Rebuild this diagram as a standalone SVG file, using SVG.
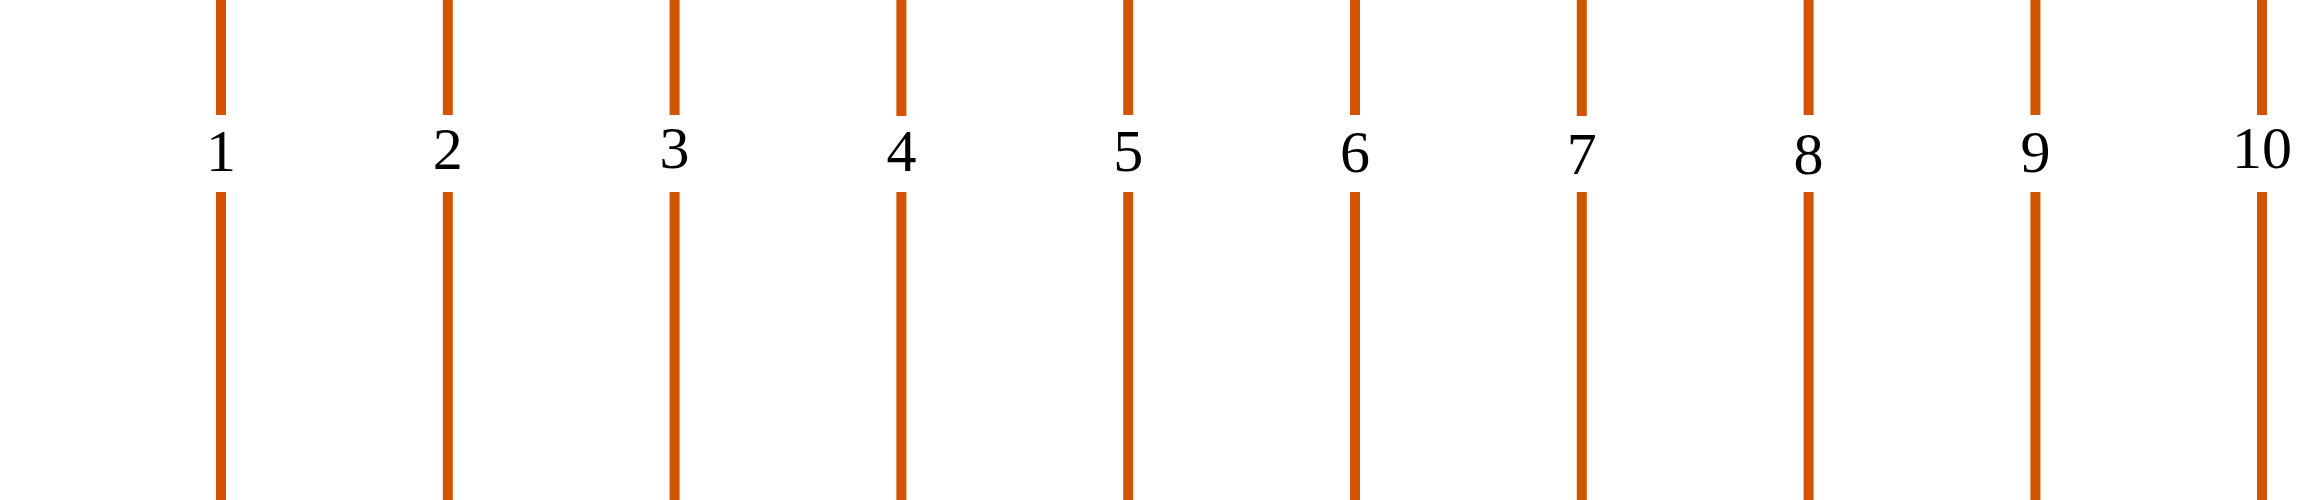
<svg xmlns="http://www.w3.org/2000/svg" width="2322" height="500" viewBox="0 0 2322 500">
<style>
.ln{stroke:#D35400;stroke-width:10;fill:none}
.lb{font-family:"Liberation Serif","Times New Roman",serif;font-size:60px;fill:#000;text-anchor:middle}
</style>
<rect width="2322" height="500" fill="#fff"/>
<g id="connectors">
<path class="ln" d="M221 0V115M221 192V500"/>
<path class="ln" d="M447.8 0V115M447.8 192V500"/>
<path class="ln" d="M674.6 0V115M674.6 192V500"/>
<path class="ln" d="M901.4 0V116M901.4 192V500"/>
<path class="ln" d="M1128.2 0V115M1128.2 192V500"/>
<path class="ln" d="M1355 0V115M1355 192V500"/>
<path class="ln" d="M1581.8 0V116M1581.8 192V500"/>
<path class="ln" d="M1808.6 0V115M1808.6 192V500"/>
<path class="ln" d="M2035.4 0V115M2035.4 192V500"/>
<path class="ln" d="M2262 0V115M2262 192V500"/>
</g>
<g id="label1"><text class="lb" x="221" y="171">1</text></g>
<g id="label2"><text class="lb" x="447.8" y="169">2</text></g>
<g id="label3"><text class="lb" x="674.6" y="168">3</text></g>
<g id="label4"><text class="lb" x="901.4" y="171">4</text></g>
<g id="label5"><text class="lb" x="1128.2" y="171">5</text></g>
<g id="label6"><text class="lb" x="1355" y="172">6</text></g>
<g id="label7"><text class="lb" x="1581.8" y="174">7</text></g>
<g id="label8"><text class="lb" x="1808.6" y="174">8</text></g>
<g id="label9"><text class="lb" x="2035.4" y="172">9</text></g>
<g id="label10"><text class="lb" x="2262" y="168">10</text></g>
</svg>
